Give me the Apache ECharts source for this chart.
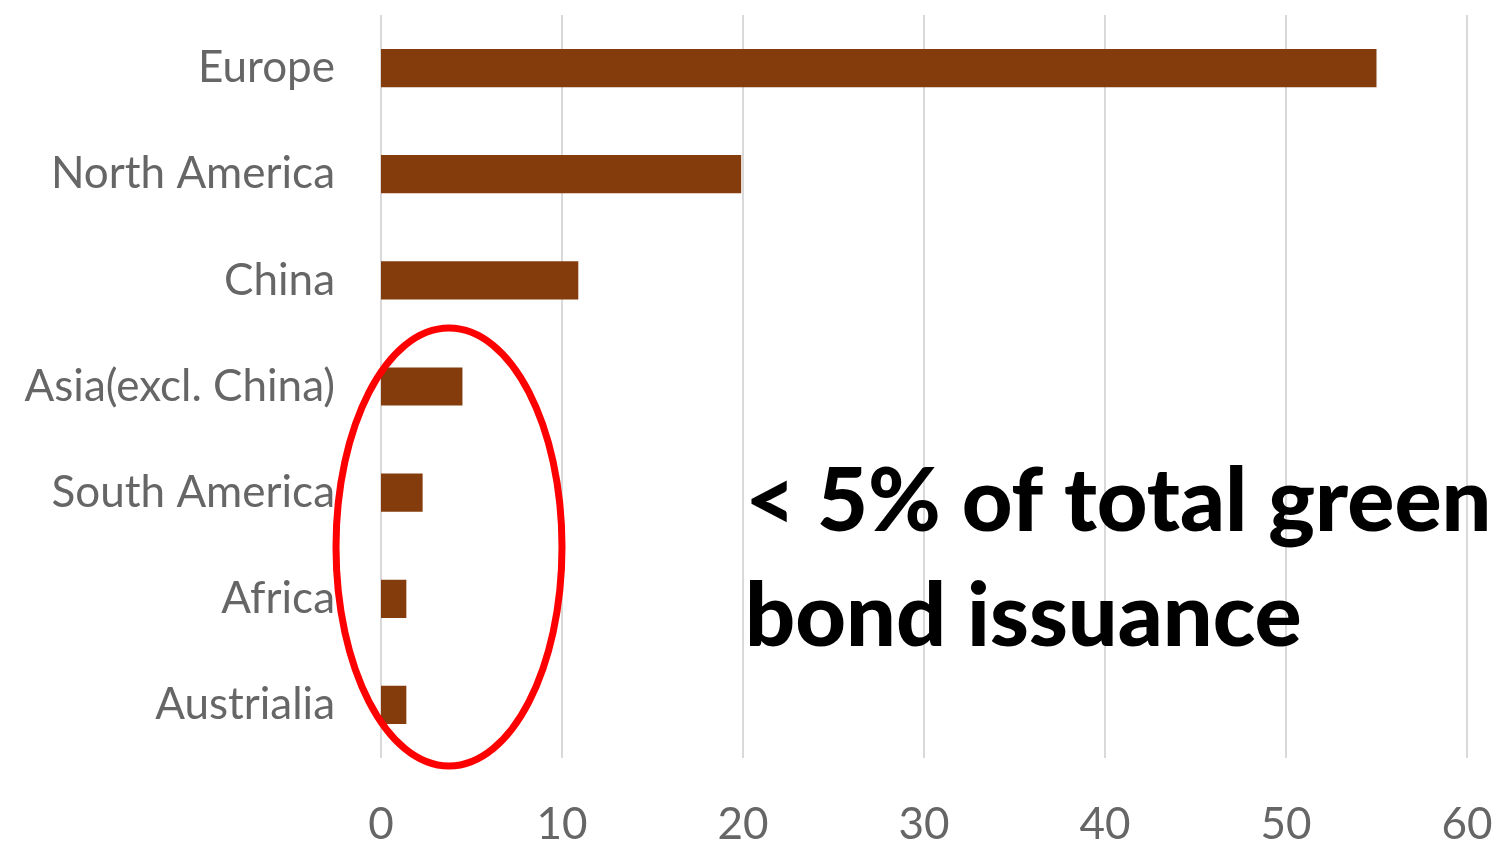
<!DOCTYPE html>
<html>
<head>
<meta charset="utf-8">
<script src="https://cdn.jsdelivr.net/npm/echarts@6/dist/echarts.min.js"></script>
<style>
html,body{margin:0;padding:0;background:#fff;}
#main{width:1495px;height:845px;}
</style>
</head>
<body>
<div id="main"></div>
<script>
const categories = ['Europe', 'North America', 'China', 'Asia(excl. China)', 'South America', 'Africa', 'Austrialia'];
const values = [55, 19.9, 10.9, 4.5, 2.3, 1.4, 1.4];
const xTicks = [0, 10, 20, 30, 40, 50, 60];
const noteLines = ['< 5% of total green', 'bond issuance'];

const chart = echarts.init(document.getElementById('main'));
chart.setOption({
  animation: false,
  grid: { left: 381, right: 28, top: 15, bottom: 87, outerBoundsMode: 'none', containLabel: false },
  xAxis: {
    type: 'value', min: xTicks[0], max: xTicks[xTicks.length - 1], interval: 10,
    axisLine: { show: false }, axisTick: { show: false },
    splitLine: { show: true, lineStyle: { color: '#d9d9d9', width: 2 } },
    axisLabel: { color: '#666666', fontFamily: 'Lato', fontSize: 44, margin: 45 }
  },
  yAxis: {
    type: 'category', data: categories, inverse: true,
    axisLine: { show: false }, axisTick: { show: false },
    axisLabel: { color: '#666666', fontFamily: 'Lato', fontSize: 44, margin: 46 }
  },
  series: [{
    type: 'bar', data: values, barCategoryGap: '64%',
    itemStyle: { color: '#843C0C' }
  }],
  graphic: [
    { type: 'ellipse', shape: { cx: 449, cy: 547, rx: 113, ry: 219 },
      style: { fill: 'none', stroke: '#ff0000', lineWidth: 7 }, z: 100 },
    { type: 'text', left: 745, top: 445, z: 100,
      style: { text: noteLines.join('\n'), font: '900 88px Lato', fill: '#000', lineHeight: 115 } }
  ]
});
</script>
</body>
</html>
